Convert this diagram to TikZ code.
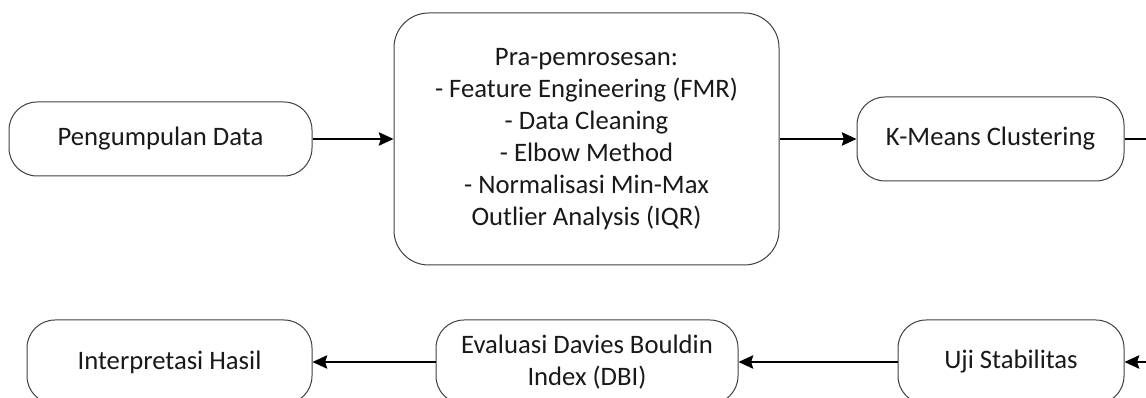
\documentclass[tikz,border=0pt]{standalone}
\usepackage{fontspec}
\setmainfont{Carlito}
\usetikzlibrary{arrows.meta}
\tikzset{
  box/.style={draw=black!75, line width=0.75pt, rounded corners=21pt, inner sep=0pt,
    align=center, text=black!90, font=\fontsize{20}{24}\selectfont},
  flow/.style={line width=1.5pt, -{Stealth[length=11pt,width=10pt,inset=1.5pt]}},
  plain/.style={line width=1.5pt}
}
\begin{document}
\begin{tikzpicture}[x=0.75pt,y=-0.75pt]
\useasboundingbox (0,0) rectangle (1146,398);
\clip (0,0) rectangle (1146,398);
\node[box, minimum width=227.25pt, minimum height=55.5pt] (collect) at (160.5,139) {Pengumpulan Data};
\node[box, minimum width=288.75pt, minimum height=189pt, rounded corners=26pt] (prep) at (586.5,139)
  {Pra-pemrosesan:\\- Feature Engineering (FMR)\\- Data Cleaning\\- Elbow Method\\- Normalisasi Min-Max\\Outlier Analysis (IQR)};
\node[box, minimum width=200.25pt, minimum height=63pt] (kmeans) at (990.5,139) {K-Means Clustering};
\node[box, minimum width=169.5pt, minimum height=63pt] (uji) at (1011,362) {Uji Stabilitas};
\node[box, minimum width=226.5pt, minimum height=63pt] (dbi) at (587,362) {Evaluasi Davies Bouldin\\Index (DBI)};
\node[box, minimum width=213.75pt, minimum height=63pt] (interp) at (169.5,362) {Interpretasi Hasil};
\coordinate (outR) at (1150,139);
\coordinate (inR) at (1150,362);
\draw[flow] (collect) -- (prep);
\draw[flow] (prep.east |- kmeans.west) -- (kmeans.west);
\draw[plain] (kmeans.east) -- (outR);
\draw[flow] (inR) -- (uji.east);
\draw[flow] (uji) -- (dbi);
\draw[flow] (dbi) -- (interp);
\end{tikzpicture}
\end{document}
